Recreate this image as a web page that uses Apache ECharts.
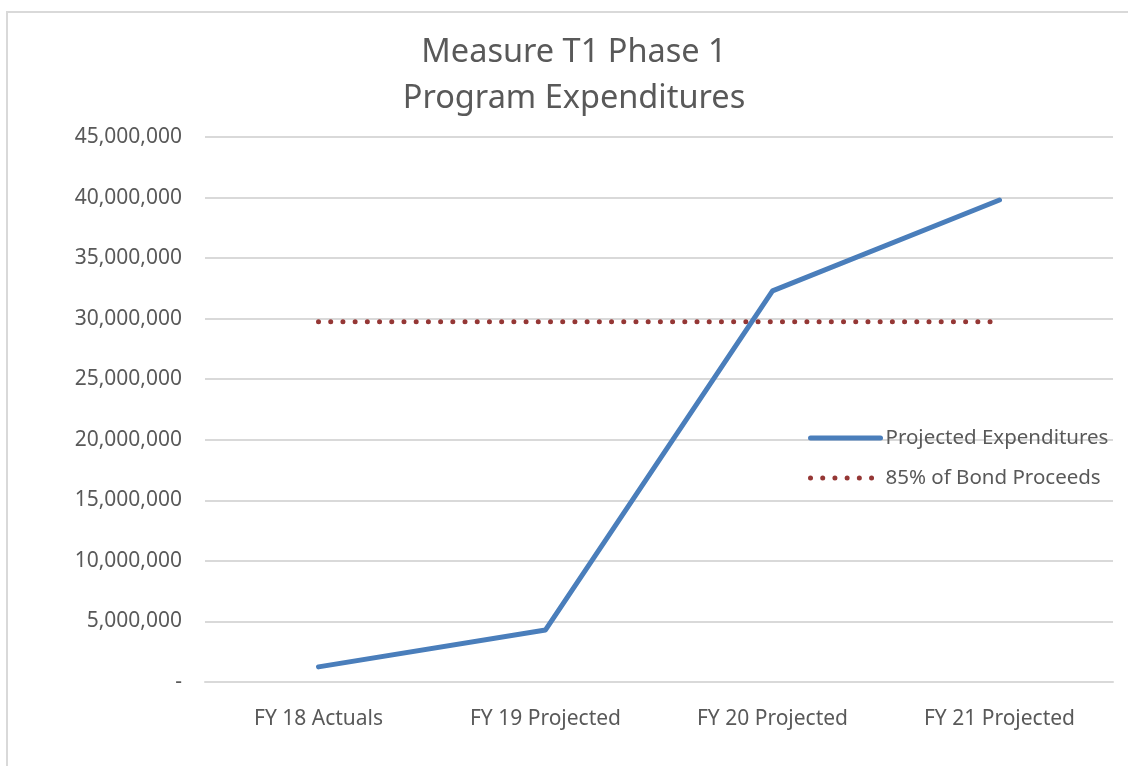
<!DOCTYPE html>
<html>
<head>
<meta charset="utf-8">
<title>Measure T1 Phase 1 Program Expenditures</title>
<script src="https://cdn.jsdelivr.net/npm/echarts@6/dist/echarts.min.js"></script>
<style>
  html, body { margin: 0; padding: 0; background: #fff; }
  #chart { width: 1128px; height: 766px; }
</style>
</head>
<body>
<div id="chart"></div>
<script>
// 图表数据
const categories = ["FY 18 Actuals", "FY 19 Projected", "FY 20 Projected", "FY 21 Projected"];
const projected = [1250000, 4300000, 32300000, 39800000];
const bondProceeds = [29750000, 29750000, 29750000, 29750000];
const seriesNames = ["Projected Expenditures", "85% of Bond Proceeds"];

const chart = echarts.init(document.getElementById("chart"));
const textColor = "#595959";
const gridColor = "#d9d9d9";
const blue = "#4a7ebb";
const red = "#953735";
const font = "Noto Sans";
const dots = [0.01, 12.2];

const option = {
  animation: false,
  textStyle: { fontFamily: font },
  graphic: [
    {
      type: "rect",
      shape: { x: 7, y: 12, width: 1200, height: 800 },
      style: { fill: "none", stroke: gridColor, lineWidth: 2 },
      silent: true,
    },
  ],
  title: {
    text: "Measure T1 Phase 1\nProgram Expenditures",
    left: 569,
    textAlign: "center",
    top: 25,
    textStyle: {
      color: textColor,
      fontFamily: font,
      fontSize: 32.5,
      fontWeight: "normal",
      lineHeight: 46,
    },
  },
  grid: {
    left: 205,
    right: 15,
    top: 137,
    bottom: 84,
  },
  legend: {
    orient: "vertical",
    left: 803,
    top: 421,
    itemWidth: 70,
    itemHeight: 5,
    itemGap: 16,
    itemStyle: { opacity: 0 },
    lineStyle: { width: 5, cap: "round" },
    textStyle: { color: textColor, fontSize: 20.5, fontFamily: font, lineHeight: 24 },
    data: [
      { name: seriesNames[0], lineStyle: { color: blue, width: 5, type: "solid", cap: "round" } },
      { name: seriesNames[1], lineStyle: { color: red, width: 5, type: dots, cap: "round" } },
    ],
  },
  xAxis: {
    type: "category",
    data: categories,
    axisTick: { show: false },
    axisLine: { show: true, lineStyle: { color: gridColor, width: 2 } },
    axisLabel: { color: textColor, fontSize: 21, margin: 27 },
  },
  yAxis: {
    type: "value",
    min: 0,
    max: 45000000,
    interval: 5000000,
    axisLine: { show: false },
    axisTick: { show: false },
    axisLabel: {
      color: textColor,
      fontSize: 21,
      margin: 23,
      formatter: function (v) {
        return v === 0 ? "-" : v.toLocaleString("en-US");
      },
    },
    splitLine: { lineStyle: { color: gridColor, width: 2 } },
  },
  series: [
    {
      name: seriesNames[0],
      type: "line",
      data: projected,
      symbol: "none",
      lineStyle: { color: blue, width: 5, cap: "round", join: "round" },
      itemStyle: { color: blue },
      z: 3,
    },
    {
      name: seriesNames[1],
      type: "line",
      data: bondProceeds,
      symbol: "none",
      lineStyle: { color: red, width: 5, type: dots, cap: "round" },
      itemStyle: { color: red },
      z: 2,
    },
  ],
};
chart.setOption(option);
</script>
</body>
</html>
